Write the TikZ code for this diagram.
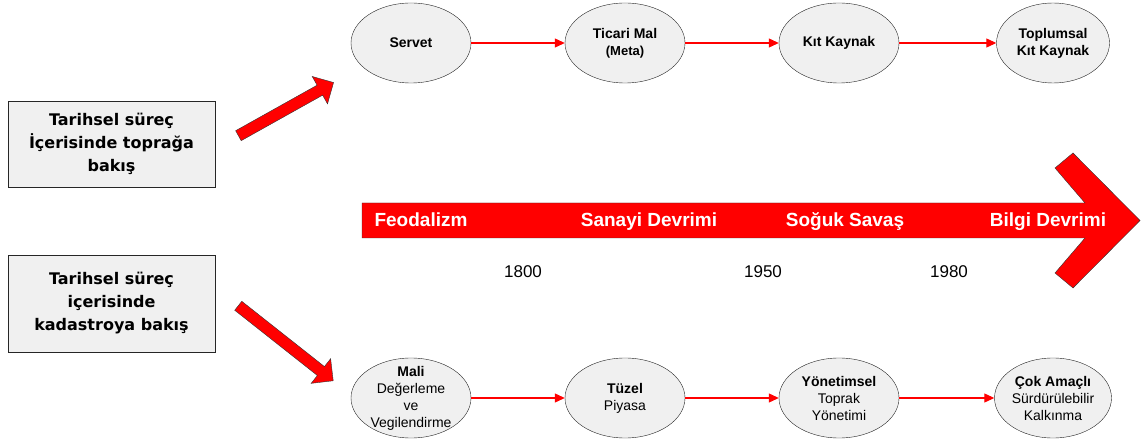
\documentclass[tikz,border=0pt]{standalone}
\usepackage{fontspec}
\setmainfont{Liberation Sans}
\newfontfamily\boxfont{DejaVu Sans}
\usetikzlibrary{shapes.geometric, shapes.arrows, arrows.meta, positioning}
\tikzset{
>={Triangle[length=10pt,width=9pt]}, % filled heads on the red links
oval/.style={ellipse, draw=black!85, fill=gray!12, minimum width=120pt, minimum height=80pt, inner sep=-10pt, align=center, font=\fontsize{14}{17}\selectfont}, % the stages
infobox/.style={rectangle, draw=black!85, thick, fill=gray!12, minimum width=207pt, align=center, font=\boxfont\bfseries\fontsize{16}{23}\selectfont},
link/.style={->, red, line width=1.1pt}, % red arrows between stages
blockarrow/.style={single arrow, draw=black!80, fill=red, inner xsep=0pt, inner ysep=5.5pt, single arrow head extend=10pt},
era/.style={anchor=base, text=white, font=\bfseries\fontsize{19}{19}\selectfont},
year/.style={anchor=base, font=\fontsize{17}{17}\selectfont},
}

\begin{document}
\begin{tikzpicture}[x=1pt, y=-1pt, node distance=214pt]
  \useasboundingbox (0,0) rectangle (1143,443);

  % Boxes on the left
  \node[infobox, minimum height=86pt] (toprak) at (111.5,144) {Tarihsel süreç\\İçerisinde toprağa\\bakış};
  \node[infobox, minimum height=97pt] (kadastro) at (111.5,303.5) {Tarihsel süreç\\içerisinde\\kadastroya bakış};

  % Block arrows
  \node[blockarrow, minimum height=109pt, rotate=29.2] (upArrow) at (283.5,110.5) {};
  \node[blockarrow, minimum height=121pt, rotate=-38.3] (downArrow) at (283.5,341.5) {};

  % Land stages
  \node[oval, font=\bfseries\fontsize{14}{17}\selectfont] (servet) at (411,43) {Servet};
  \node[oval, font=\bfseries\fontsize{14}{17}\selectfont, right of=servet] (ticari) {Ticari Mal\\{\fontsize{13}{15}\selectfont(Meta)}};
  \node[oval, font=\bfseries\fontsize{14}{17}\selectfont, right of=ticari] (kit) {Kıt Kaynak};
  \node[oval, font=\bfseries\fontsize{14}{17}\selectfont, minimum width=113pt, right of=kit] (toplumsal) {Toplumsal\\Kıt Kaynak};

  % Cadastre stages
  \node[oval] (mali) at (411,398) {\textbf{Mali}\\Değerleme\\ve\\Vegilendirme};
  \node[oval, right of=mali] (tuzel) {\textbf{Tüzel}\\Piyasa};
  \node[oval, right of=tuzel] (yonetim) {\textbf{Yönetimsel}\\Toprak\\Yönetimi};
  \node[oval, minimum width=117pt, right of=yonetim] (cok) {\textbf{Çok Amaçlı}\\Sürdürülebilir\\Kalkınma};

  % Links
  \path[link]
    (servet) edge (ticari)
    (ticari) edge (kit)
    (kit) edge (toplumsal)
    (mali) edge (tuzel)
    (tuzel) edge (yonetim)
    (yonetim) edge (cok);

  % Timeline
  \draw[draw=black!80, fill=red] (362,203) -- (1085,203) -- (1055,168) -- (1073,153) -- (1140,220.5)
    -- (1073,288) -- (1055,273) -- (1085,238) -- (362,238) -- cycle;
  \node[era] (feodal) at (421,227) {Feodalizm};
  \node[era] (sanayi) at (649,227) {Sanayi Devrimi};
  \node[era] (soguk) at (845,227) {Soğuk Savaş};
  \node[era] (bilgi) at (1048,227) {Bilgi Devrimi};
  \node[year] (y1800) at (523,278) {1800};
  \node[year] (y1950) at (763,278) {1950};
  \node[year] (y1980) at (949,278) {1980};
\end{tikzpicture}
\end{document}
